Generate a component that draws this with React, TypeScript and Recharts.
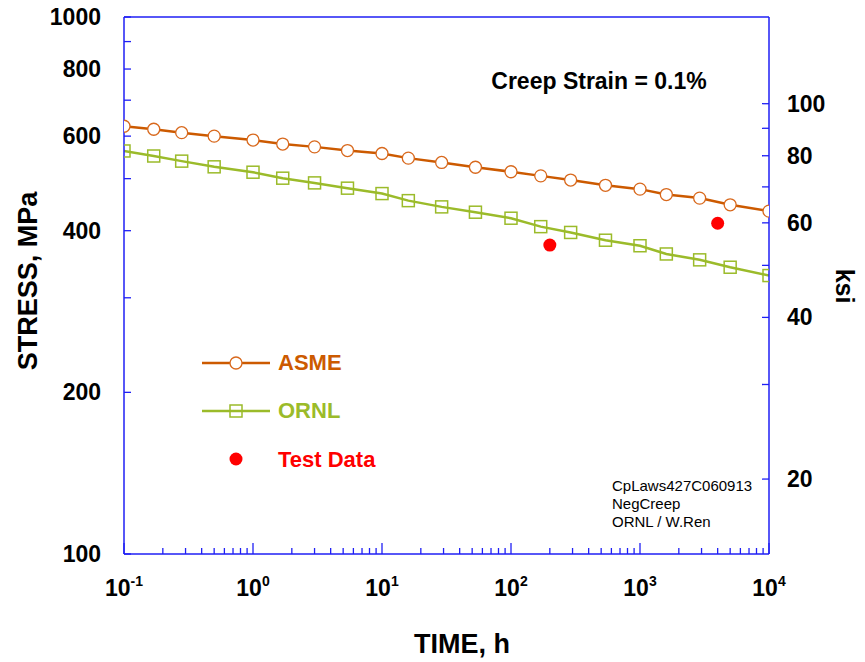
import { ComposedChart, Line, Scatter, XAxis, YAxis } from "recharts";

// time, h
const times = [0.1, 0.17, 0.28, 0.5, 1, 1.7, 3, 5.4, 10, 16, 29, 53, 100, 170, 290, 540, 1000, 1600, 2900, 5000, 10000];
// stress, MPa
const asmeStress = [626, 618, 609, 600, 590, 580, 573, 564, 557, 546, 536, 525, 515, 506, 497, 486, 478, 467, 460, 447, 435];
const ornlStress = [563, 551, 539, 526, 514, 501, 491, 480, 469, 455, 443, 433, 422, 407, 397, 384, 375, 362, 353, 342, 330];
const testTimes = [200, 4000];
const testStress = [376, 413];

const xExponents = [-1, 0, 1, 2, 3, 4];
const mpaTicks = [100, 200, 300, 400, 500, 600, 700, 800, 900, 1000];
const mpaLabels = [100, 200, 400, 600, 800, 1000];
const ksiTicks = [20, 30, 40, 50, 60, 70, 80, 90, 100];
const ksiLabels = [20, 40, 60, 80, 100];
const MPA_PER_KSI = 6.895;

const asmeData = times.map((t, i) => ({ time: t, stress: asmeStress[i] }));
const ornlData = times.map((t, i) => ({ time: t, stress: ornlStress[i] }));
const testData = testTimes.map((t, i) => ({ time: t, stress: testStress[i] }));

// log ticks: 1..9 per decade
const xTicks: number[] = [];
xExponents.forEach((e) => {
  if (e === 4) {
    xTicks.push(10000);
    return;
  }
  for (let m = 1; m <= 9; m++) xTicks.push(m * Math.pow(10, e));
});

const BLUE = "#1f1ff5";
const ASME = "#cc5a00";
const ASME_MK = "#d8681c";
const ORNL = "#9bbb2a";
const RED = "#ff0000";
const FONT = "'Liberation Sans', Arial, sans-serif";

const isDecade = (v: number) => {
  const lg = Math.log10(v);
  return Math.abs(lg - Math.round(lg)) < 1e-6;
};

function BottomTick(props: any) {
  const { x, y, payload } = props;
  const major = isDecade(payload.value);
  const e = Math.round(Math.log10(payload.value));
  return (
    <g>
      <line x1={x} x2={x} y1={y} y2={y - (major ? 11 : 6)} stroke={BLUE} strokeWidth={1.3} />
      {major && (
        <text x={x} y={y + 42} textAnchor="middle" fontFamily={FONT} fontWeight="bold" fontSize={23} fill="#000">
          10
          <tspan dy={-10} fontSize={14}>
            {e}
          </tspan>
        </text>
      )}
    </g>
  );
}

function TopTick(props: any) {
  const { x, y, payload } = props;
  const major = isDecade(payload.value);
  return <line x1={x} x2={x} y1={y} y2={y + (major ? 11 : 6)} stroke={BLUE} strokeWidth={1.3} />;
}

function LeftTick(props: any) {
  const { x, y, payload } = props;
  return (
    <g>
      <line x1={x} x2={x + 7} y1={y} y2={y} stroke={BLUE} strokeWidth={1.3} />
      {mpaLabels.includes(payload.value) && (
        <text x={x - 23} y={y + 8} textAnchor="end" fontFamily={FONT} fontWeight="bold" fontSize={23} fill="#000">
          {payload.value}
        </text>
      )}
    </g>
  );
}

function RightTick(props: any) {
  const { x, y, payload } = props;
  return (
    <g>
      <line x1={x} x2={x - 7} y1={y} y2={y} stroke={BLUE} strokeWidth={1.3} />
      {ksiLabels.includes(payload.value) && (
        <text x={x + 18} y={y + 8} textAnchor="start" fontFamily={FONT} fontWeight="bold" fontSize={23} fill="#000">
          {payload.value}
        </text>
      )}
    </g>
  );
}

const circleDot = (p: any) => (
  <circle key={`a${p.index}`} cx={p.cx} cy={p.cy} r={6} fill="#fff" stroke={ASME_MK} strokeWidth={1.3} />
);
const squareDot = (p: any) => (
  <rect key={`o${p.index}`} x={p.cx - 6} y={p.cy - 6} width={12} height={12} fill="none" stroke={ORNL} strokeWidth={1.5} />
);
const redDot = (p: any) => <circle cx={p.cx} cy={p.cy} r={6.5} fill={RED} />;

export default function App() {
  return (
    <div style={{ position: "absolute", left: 0, top: 0, width: 865, height: 662, background: "#fff" }}>
      <ComposedChart width={865} height={662} margin={{ top: 0, right: 0, bottom: 0, left: 0 }}>
        <XAxis
          xAxisId={0}
          dataKey="time"
          type="number"
          scale="log"
          domain={[0.1, 10000]}
          allowDataOverflow
          ticks={xTicks}
          interval={0}
          tick={<BottomTick />}
          tickSize={0}
          tickMargin={0}
          tickLine={false}
          axisLine={{ stroke: BLUE, strokeWidth: 1.5 }}
          height={108}
        />
        <XAxis
          xAxisId="top"
          orientation="top"
          type="number"
          scale="log"
          domain={[0.1, 10000]}
          allowDataOverflow
          ticks={xTicks}
          interval={0}
          tick={<TopTick />}
          tickSize={0}
          tickMargin={0}
          tickLine={false}
          axisLine={{ stroke: BLUE, strokeWidth: 1.5 }}
          height={17}
        />
        <YAxis
          yAxisId={0}
          dataKey="stress"
          type="number"
          scale="log"
          domain={[100, 1000]}
          allowDataOverflow
          ticks={mpaTicks}
          interval={0}
          tick={<LeftTick />}
          tickSize={0}
          tickMargin={0}
          tickLine={false}
          axisLine={{ stroke: BLUE, strokeWidth: 1.5 }}
          width={124}
        />
        <YAxis
          yAxisId="ksi"
          orientation="right"
          type="number"
          scale="log"
          domain={[100 / MPA_PER_KSI, 1000 / MPA_PER_KSI]}
          allowDataOverflow
          ticks={ksiTicks}
          interval={0}
          tick={<RightTick />}
          tickSize={0}
          tickMargin={0}
          tickLine={false}
          axisLine={{ stroke: BLUE, strokeWidth: 1.5 }}
          width={96}
        />
        <Line
          data={asmeData}
          dataKey="stress"
          type="linear"
          stroke={ASME}
          strokeWidth={2.5}
          dot={circleDot}
          activeDot={false}
          isAnimationActive={false}
        />
        <Line
          data={ornlData}
          dataKey="stress"
          type="linear"
          stroke={ORNL}
          strokeWidth={2.5}
          dot={squareDot}
          activeDot={false}
          isAnimationActive={false}
        />
        <Scatter data={testData} dataKey="stress" shape={redDot} isAnimationActive={false} />
      </ComposedChart>

      <svg
        width={865}
        height={662}
        style={{ position: "absolute", left: 0, top: 0, pointerEvents: "none" }}
        fontFamily={FONT}
      >
        <text transform="translate(37,281) rotate(-90)" textAnchor="middle" fontWeight="bold" fontSize={27} fill="#000">
          STRESS, MPa
        </text>
        <text transform="translate(836,286) rotate(90)" textAnchor="middle" fontWeight="bold" fontSize={25} fill="#000">
          ksi
        </text>
        <text x={462} y={653} textAnchor="middle" fontWeight="bold" fontSize={27} fill="#000">
          TIME, h
        </text>
        <text x={599} y={89} textAnchor="middle" fontWeight="bold" fontSize={23} fill="#000">
          Creep Strain = 0.1%
        </text>
        <text x={612} y={491} fontSize={15} fill="#000">
          CpLaws427C060913
        </text>
        <text x={612} y={509} fontSize={15} fill="#000">
          NegCreep
        </text>
        <text x={612} y={527} fontSize={15} fill="#000">
          ORNL / W.Ren
        </text>

        <line x1={202} x2={270} y1={363} y2={363} stroke={ASME} strokeWidth={2.5} />
        <circle cx={236} cy={363} r={6} fill="#fff" stroke={ASME_MK} strokeWidth={1.3} />
        <text x={278} y={370} fontWeight="bold" fontSize={22} fill={ASME}>
          ASME
        </text>
        <line x1={202} x2={270} y1={411} y2={411} stroke={ORNL} strokeWidth={2.5} />
        <rect x={230} y={405} width={12} height={12} fill="none" stroke={ORNL} strokeWidth={1.5} />
        <text x={278} y={418} fontWeight="bold" fontSize={22} fill={ORNL}>
          ORNL
        </text>
        <circle cx={236} cy={459} r={6.5} fill={RED} />
        <text x={278} y={467} fontWeight="bold" fontSize={22} fill={RED}>
          Test Data
        </text>
      </svg>
    </div>
  );
}
